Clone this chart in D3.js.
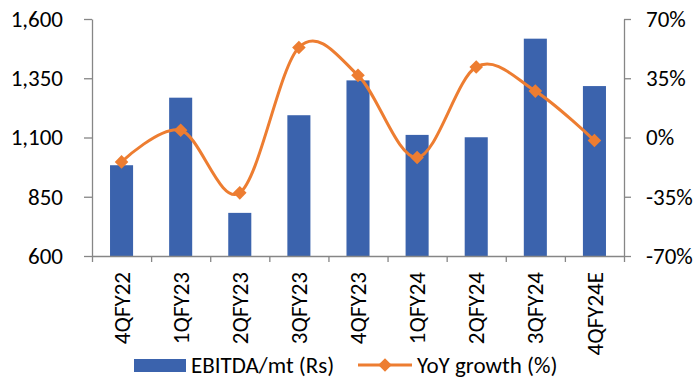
<!DOCTYPE html>
<html lang="en">
<head>
    <meta charset="UTF-8">
    <title>EBITDA/mt</title>
    <script src="https://d3js.org/d3.v7.min.js"></script>
    <style>
        body {
            margin: 0;
            background: #fff;
        }
        svg text {
            font-family: Carlito, Lato, 'Liberation Sans', sans-serif;
            font-size: 23px;
            fill: #000;
        }
        .axis path, .axis line {
            stroke: #868686;
            stroke-width: 1.3px;
        }
    </style>
</head>
<body>
    <div id="chart"></div>
    <script>
        const quarters = ["4QFY22", "1QFY23", "2QFY23", "3QFY23", "4QFY23", "1QFY24", "2QFY24", "3QFY24", "4QFY24E"];
        const ebitda = [983, 1268, 782, 1194, 1341, 1111, 1101, 1517, 1317];
        const yoy = [-14.4, 4.3, -32.7, 53.2, 36.7, -11.8, 41.7, 27.4, -1.8];
        const leftTicks = [600, 850, 1100, 1350, 1600];
        const rightTicks = [-70, -35, 0, 35, 70];

        const W = 696, H = 381;
        const plot = { left: 92, right: 624, top: 19, bottom: 256 };
        const blue = "#3b63ad", orange = "#ed7d31";

        const svg = d3.select("#chart").append("svg")
            .attr("width", W)
            .attr("height", H);

        const x = d3.scaleBand()
            .domain(quarters)
            .range([plot.left, plot.right])
            .paddingInner(0.61)
            .paddingOuter(0.305);

        // boundaries for the category ticks
        const xEdge = d3.scaleLinear()
            .domain([0, quarters.length])
            .range([plot.left, plot.right]);

        const yL = d3.scaleLinear().domain([600, 1600]).range([plot.bottom, plot.top]);
        const yR = d3.scaleLinear().domain([-70, 70]).range([plot.bottom, plot.top]);

        // bars
        svg.append("g")
            .selectAll("rect")
            .data(ebitda)
            .join("rect")
            .attr("x", (d, i) => x(quarters[i]))
            .attr("y", d => yL(d))
            .attr("width", x.bandwidth())
            .attr("height", d => yL(600) - yL(d))
            .attr("fill", blue);

        // axes
        svg.append("g")
            .attr("class", "axis")
            .attr("transform", `translate(${plot.left},0)`)
            .call(d3.axisLeft(yL).tickValues(leftTicks).tickFormat(d3.format(",")).tickSize(8).tickPadding(21).tickSizeOuter(0));

        svg.append("g")
            .attr("class", "axis")
            .attr("transform", `translate(${plot.right},0)`)
            .call(d3.axisRight(yR).tickValues(rightTicks).tickFormat(d => d + "%").tickSize(7).tickPadding(15).tickSizeOuter(0));

        svg.append("g")
            .attr("class", "axis")
            .attr("transform", `translate(0,${plot.bottom})`)
            .call(d3.axisBottom(xEdge).ticks(quarters.length).tickFormat("").tickSize(6).tickSizeOuter(0));

        svg.append("g")
            .selectAll("text")
            .data(quarters)
            .join("text")
            .attr("transform", d => `translate(${x(d) + x.bandwidth() / 2},272) rotate(-90)`)
            .attr("text-anchor", "end")
            .attr("dy", "0.35em")
            .text(d => d);

        // YoY line
        const line = d3.line()
            .x((d, i) => x(quarters[i]) + x.bandwidth() / 2)
            .y(d => yR(d))
            .curve(d3.curveCardinal.tension(0));

        svg.append("path")
            .datum(yoy)
            .attr("fill", "none")
            .attr("stroke", orange)
            .attr("stroke-width", 3)
            .attr("d", line);

        const diamond = d3.symbol(d3.symbolSquare, 92);

        svg.append("g")
            .selectAll("path")
            .data(yoy)
            .join("path")
            .attr("transform", (d, i) => `translate(${x(quarters[i]) + x.bandwidth() / 2},${yR(d)}) rotate(45)`)
            .attr("d", diamond)
            .attr("fill", orange);

        // legend
        const lg = svg.append("g");
        lg.append("rect")
            .attr("x", 134).attr("y", 359)
            .attr("width", 52).attr("height", 13)
            .attr("fill", blue);
        lg.append("text")
            .attr("x", 191).attr("y", 373)
            .text("EBITDA/mt (Rs)");
        lg.append("line")
            .attr("x1", 358).attr("x2", 412)
            .attr("y1", 365).attr("y2", 365)
            .attr("stroke", orange)
            .attr("stroke-width", 3);
        lg.append("path")
            .attr("transform", "translate(385,365) rotate(45)")
            .attr("d", diamond)
            .attr("fill", orange);
        lg.append("text")
            .attr("x", 417).attr("y", 373)
            .text("YoY growth (%)");
    </script>
</body>
</html>
